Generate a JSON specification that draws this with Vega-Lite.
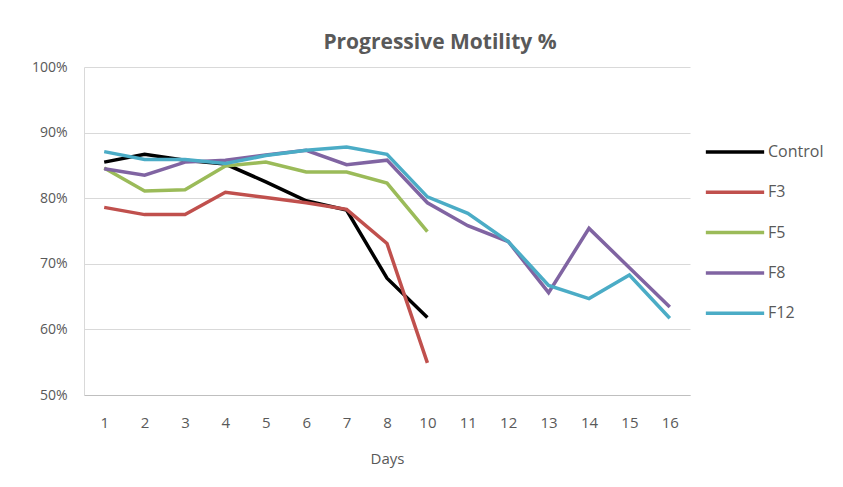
{
  "$schema": "https://vega.github.io/schema/vega-lite/v6.json",
  "autosize": "none",
  "width": 606,
  "height": 328,
  "padding": {"left": 84, "top": 67, "right": 153, "bottom": 92},
  "background": "white",
  "title": {"text": "Progressive Motility %", "fontSize": 21, "font": "Open Sans", "fontWeight": "bold", "color": "#595959", "anchor": "middle", "offset": 7, "dx": 53},
  "data": {"values": [
    {"day": "1", "series": "Control", "v": 85.5},
    {"day": "2", "series": "Control", "v": 86.7},
    {"day": "3", "series": "Control", "v": 85.8},
    {"day": "4", "series": "Control", "v": 85.2},
    {"day": "5", "series": "Control", "v": 82.5},
    {"day": "6", "series": "Control", "v": 79.6},
    {"day": "7", "series": "Control", "v": 78.2},
    {"day": "8", "series": "Control", "v": 67.8},
    {"day": "10", "series": "Control", "v": 61.8},
    {"day": "1", "series": "F3", "v": 78.6},
    {"day": "2", "series": "F3", "v": 77.5},
    {"day": "3", "series": "F3", "v": 77.5},
    {"day": "4", "series": "F3", "v": 80.9},
    {"day": "5", "series": "F3", "v": 80.1},
    {"day": "6", "series": "F3", "v": 79.3},
    {"day": "7", "series": "F3", "v": 78.3},
    {"day": "8", "series": "F3", "v": 73.1},
    {"day": "10", "series": "F3", "v": 54.9},
    {"day": "1", "series": "F5", "v": 84.6},
    {"day": "2", "series": "F5", "v": 81.1},
    {"day": "3", "series": "F5", "v": 81.3},
    {"day": "4", "series": "F5", "v": 84.9},
    {"day": "5", "series": "F5", "v": 85.5},
    {"day": "6", "series": "F5", "v": 84.0},
    {"day": "7", "series": "F5", "v": 84.0},
    {"day": "8", "series": "F5", "v": 82.3},
    {"day": "10", "series": "F5", "v": 74.9},
    {"day": "1", "series": "F8", "v": 84.5},
    {"day": "2", "series": "F8", "v": 83.5},
    {"day": "3", "series": "F8", "v": 85.5},
    {"day": "4", "series": "F8", "v": 85.8},
    {"day": "5", "series": "F8", "v": 86.6},
    {"day": "6", "series": "F8", "v": 87.3},
    {"day": "7", "series": "F8", "v": 85.1},
    {"day": "8", "series": "F8", "v": 85.8},
    {"day": "10", "series": "F8", "v": 79.3},
    {"day": "11", "series": "F8", "v": 75.8},
    {"day": "12", "series": "F8", "v": 73.4},
    {"day": "13", "series": "F8", "v": 65.6},
    {"day": "14", "series": "F8", "v": 75.4},
    {"day": "15", "series": "F8", "v": 69.4},
    {"day": "16", "series": "F8", "v": 63.4},
    {"day": "1", "series": "F12", "v": 87.1},
    {"day": "2", "series": "F12", "v": 85.9},
    {"day": "3", "series": "F12", "v": 85.9},
    {"day": "4", "series": "F12", "v": 85.3},
    {"day": "5", "series": "F12", "v": 86.5},
    {"day": "6", "series": "F12", "v": 87.3},
    {"day": "7", "series": "F12", "v": 87.8},
    {"day": "8", "series": "F12", "v": 86.7},
    {"day": "10", "series": "F12", "v": 80.2},
    {"day": "11", "series": "F12", "v": 77.7},
    {"day": "12", "series": "F12", "v": 73.4},
    {"day": "13", "series": "F12", "v": 66.7},
    {"day": "14", "series": "F12", "v": 64.7},
    {"day": "15", "series": "F12", "v": 68.3},
    {"day": "16", "series": "F12", "v": 61.7}
  ]},
  "mark": {"type": "line", "strokeWidth": 3.5, "strokeJoin": "miter"},
  "encoding": {
    "x": {
      "field": "day", "type": "ordinal",
      "sort": ["1","2","3","4","5","6","7","8","10","11","12","13","14","15","16"],
      "scale": {"type": "point", "padding": 0.5},
      "axis": {"title": "Days", "labelAngle": 0, "ticks": false, "domainColor": "#bfbfbf", "labelPadding": 20, "titlePadding": 21, "grid": false, "labelFontSize": 15}
    },
    "y": {
      "field": "v", "type": "quantitative",
      "scale": {"domain": [50, 100], "nice": false, "zero": false},
      "axis": {"title": null, "values": [50,60,70,80,90,100], "labelExpr": "datum.value + '%'", "ticks": false, "domainColor": "#d9d9d9", "gridColor": "#d9d9d9", "labelPadding": 17}
    },
    "color": {
      "field": "series", "type": "nominal",
      "sort": ["Control","F3","F5","F8","F12"],
      "scale": {"domain": ["Control","F3","F5","F8","F12"], "range": ["#000000","#C0504D","#9BBB59","#8064A2","#4BACC6"]},
      "legend": {"title": null, "orient": "none", "legendX": 620, "legendY": 75, "symbolType": "stroke", "symbolSize": 3400, "symbolStrokeWidth": 3.5, "clipHeight": 20, "rowPadding": 20.3, "labelOffset": 2, "labelFontSize": 16}
    }
  },
  "config": {
    "font": "Open Sans",
    "view": {"stroke": null},
    "axis": {"labelFont": "Open Sans", "labelFontSize": 14, "labelColor": "#595959", "titleFont": "Open Sans", "titleFontSize": 15, "titleColor": "#595959", "titleFontWeight": "normal"},
    "legend": {"labelFont": "Open Sans", "labelColor": "#595959"}
  }
}
